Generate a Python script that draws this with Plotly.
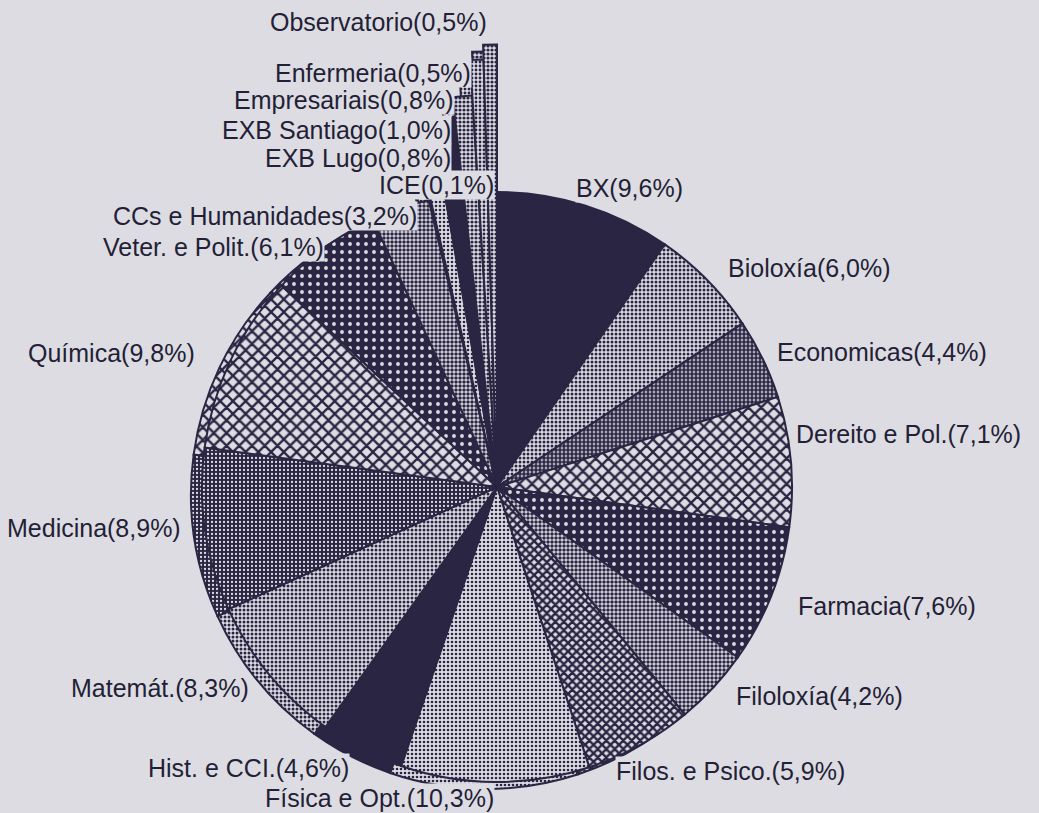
import plotly.graph_objects as go

# ---------------- data ----------------
categories = ["BX", "Bioloxía", "Economicas", "Dereito e Pol.", "Farmacia",
              "Filoloxía", "Filos. e Psico.", "Física e Opt.", "Hist. e CCI.",
              "Matemát.", "Medicina", "Química", "Veter. e Polit.",
              "CCs e Humanidades", "ICE", "EXB Lugo", "EXB Santiago",
              "Empresariais", "Enfermeria", "Observatorio"]
shares = [9.6, 6.0, 4.4, 7.1, 7.6, 4.2, 5.9, 10.3, 4.6, 8.3, 8.9, 9.8, 6.1,
          3.2, 0.1, 0.8, 1.0, 0.8, 0.5, 0.5]
# exploded (elongated) small slices
slice_radius = [1, 1, 1, 1, 1, 1, 1, 1, 1, 1, 1, 1, 1, 1,
                1.08, 1.15, 1.26, 1.33, 1.45, 1.50]

# ---------------- styles ----------------
NAVY = "#2a2542"
LIGHT = "#dddce3"
TXT = "#231f36"

# (bg, fg, shape, size, solidity)
styles = [
    (NAVY, NAVY, "", 8, 0.5),      # BX
    (LIGHT, NAVY, ".", 4, 0.45),   # Bioloxía
    (LIGHT, NAVY, ".", 4, 0.72),   # Economicas
    (LIGHT, NAVY, "x", 9, 0.45),   # Dereito
    (NAVY, LIGHT, ".", 8, 0.18),   # Farmacia
    (LIGHT, NAVY, ".", 4, 0.6),    # Filoloxía
    (LIGHT, NAVY, "x", 6, 0.65),   # Filos
    (LIGHT, NAVY, ".", 4, 0.35),   # Física
    (NAVY, NAVY, "", 8, 0.5),      # Hist
    (LIGHT, NAVY, ".", 4, 0.45),   # Matemát
    (NAVY, LIGHT, ".", 4, 0.25),   # Medicina
    (LIGHT, NAVY, "x", 9, 0.45),   # Química
    (NAVY, LIGHT, ".", 8, 0.18),   # Veter
    (LIGHT, NAVY, ".", 4, 0.6),    # CCs
    (LIGHT, NAVY, ".", 4, 0.3),    # ICE
    (LIGHT, NAVY, ".", 4, 0.35),   # EXB Lugo
    (NAVY, NAVY, "", 8, 0.5),      # EXB Santiago
    (LIGHT, NAVY, ".", 4, 0.5),    # Empresariais
    (LIGHT, NAVY, ".", 4, 0.4),    # Enfermeria
    (LIGHT, NAVY, ".", 4, 0.5),    # Observatorio
]

# label anchor positions (pixels) and side
label_pos = [
    (575, 188, "left"), (727, 268, "left"), (776, 352, "left"),
    (795, 434, "left"), (797, 606, "left"), (735, 696, "left"),
    (615, 771, "left"), (495, 798, "right"), (350, 768, "right"),
    (250, 688, "right"), (182, 528, "right"), (196, 353, "right"),
    (325, 247, "right"), (418, 216, "right"), (495, 185, "right"),
    (452, 158, "right"), (452, 130, "right"), (455, 100, "right"),
    (472, 73, "right"), (488, 22, "right"),
]

W, VIEW_H = 1039, 813
H = 1000            # drawing area taller than the window; the extra is hidden
CX, CY, R = 497, 487, 295
HALF = 455
SDX, SDY = -11, 7   # offset of the 3-D side (rim) of the pie

# ---------------- geometry from data ----------------
total = sum(shares)
widths = [s / total * 360 for s in shares]
mids = []
acc = 0
for w in widths:
    mids.append(acc + w / 2)
    acc += w

fig = go.Figure()
for sub in ("polar", "polar2"):
    for name, r, th, w, (bg, fg, shp, sz, sol) in zip(categories, slice_radius, mids, widths, styles):
        fig.add_trace(go.Barpolar(
            r=[r], theta=[th], width=[w], subplot=sub,
            marker=dict(
                color=bg,
                line=dict(color=NAVY, width=2),
                pattern=dict(shape=shp, fgcolor=fg, bgcolor=bg, size=sz,
                             solidity=sol, fillmode="replace"),
            ),
            name=name, hoverinfo="name", showlegend=False,
        ))

def fmt(v):
    return ("%.1f" % v).replace(".", ",")

annotations = []
for name, v, (px, py, side) in zip(categories, shares, label_pos):
    annotations.append(dict(
        text=f"{name}({fmt(v)}%)", x=px / W, y=1 - py / H,
        xref="paper", yref="paper", xanchor=side, yanchor="middle",
        showarrow=False, bgcolor=LIGHT, borderpad=0,
        font=dict(family="Liberation Sans, Arial, sans-serif", size=25, color=TXT),
    ))

def polar_layout(cx, cy):
    return dict(
        domain=dict(x=[(cx - HALF) / W, (cx + HALF) / W],
                    y=[1 - (cy + HALF) / H, 1 - (cy - HALF) / H]),
        radialaxis=dict(range=[0, HALF / R], visible=False, showgrid=False),
        angularaxis=dict(rotation=90, direction="clockwise", visible=False,
                         showgrid=False),
        bgcolor="rgba(0,0,0,0)", bargap=0, barmode="overlay",
    )

fig.update_layout(
    width=W, height=H,
    margin=dict(l=0, r=0, t=0, b=0),
    paper_bgcolor=LIGHT, plot_bgcolor=LIGHT,
    polar=polar_layout(CX + SDX, CY + SDY),   # rim / side of the pie
    polar2=polar_layout(CX, CY),              # top face of the pie
    annotations=annotations,
)

fig.write_html(
    "out.html",
    config={"displayModeBar": False},
    post_script=(
        "document.documentElement.style.overflow='hidden';"
        "document.body.style.margin='0';"
        "document.body.style.overflow='hidden';"
        "var gd=document.querySelector('.plotly-graph-div');"
        "gd.parentElement.style.height='%dpx';"
        "gd.parentElement.style.overflow='hidden';" % VIEW_H
    ),
)
